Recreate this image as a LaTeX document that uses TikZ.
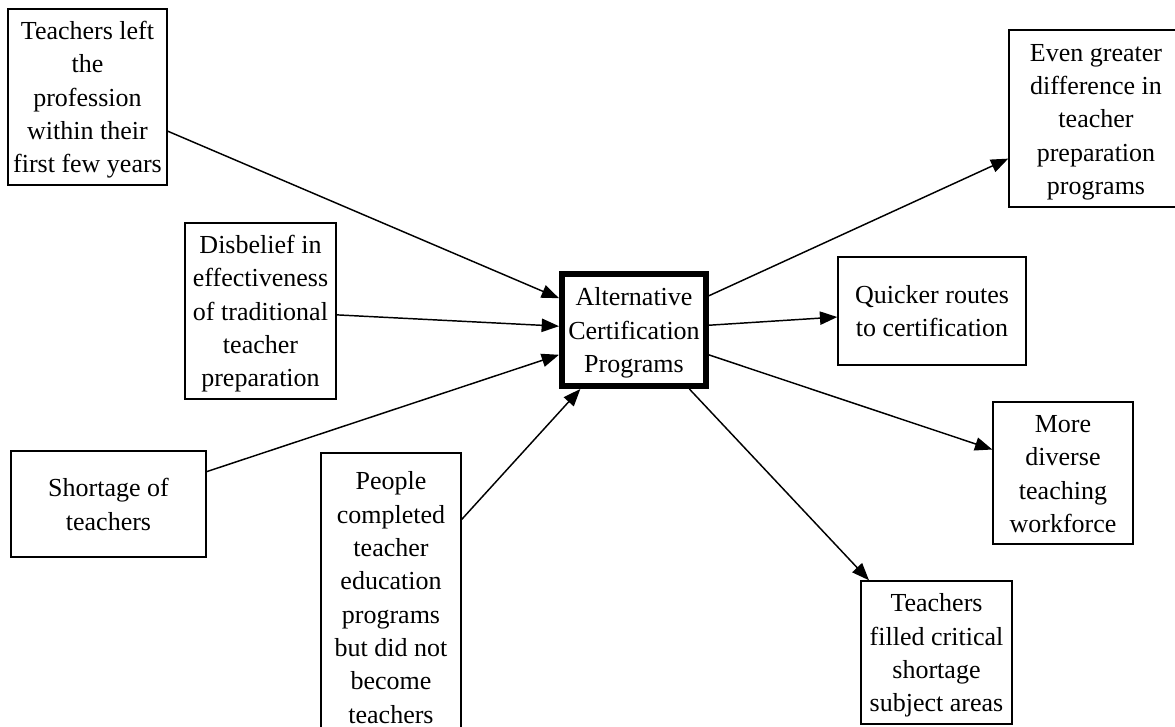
\documentclass[tikz,border=0pt]{standalone}
\usepackage{fontspec}
\setmainfont{Liberation Serif}
\usetikzlibrary{arrows.meta}
\newcommand\toprl{\rule{0pt}{19pt}}
\newcommand\botrl{\rule[-5pt]{0pt}{5pt}}
\begin{document}
\begin{tikzpicture}[x=0.75pt,y=-0.75pt,
  box/.style={draw, line width=1.1pt, inner sep=0pt, align=center,
    font=\fontsize{19.5}{25}\selectfont},
  sz/.style 2 args={minimum width=#1*0.75pt, minimum height=#2*0.75pt},
  mainbox/.style={box, line width=4.5pt},
  conn/.style={draw, line width=1.1pt, -{Triangle[length=13pt,width=10pt]}}]
\fill[white] (0,0) rectangle (1175,727);
\useasboundingbox (0,0) rectangle (1175,727);
\node[box, sz={159}{176}] (A) at (87.5,97) {\toprl Teachers left\\the\\profession\\within their\\first few years\botrl};
\node[box, sz={151}{176}] (B) at (260.5,311) {\toprl Disbelief in\\effectiveness\\of traditional\\teacher\\preparation\botrl};
\node[box, sz={195}{106}] (C) at (108.5,504) {\toprl Shortage of\\teachers\botrl};
\node[box, sz={140}{288}] (D) at (391,597) {\toprl People\\completed\\teacher\\education\\programs\\but did not\\become\\teachers\botrl};
\node[mainbox, sz={144}{112}] (M) at (634,330) {\toprl Alternative\\Certification\\Programs\botrl};
\node[box, sz={174}{177}] (E) at (1096,118.5) {\toprl Even greater\\difference in\\teacher\\preparation\\programs\botrl};
\node[box, sz={188}{108}] (Q) at (932,311) {\toprl Quicker routes\\to certification\botrl};
\node[box, sz={140}{142}] (R) at (1063,473) {\toprl More\\diverse\\teaching\\workforce\botrl};
\node[box, sz={151}{143}] (T) at (936.5,652.5) {\toprl Teachers\\filled critical\\shortage\\subject areas\botrl};
\draw[conn] (A) -- (M);
\draw[conn] (B) -- (M);
\draw[conn] (C) -- (M);
\draw[conn] (D) -- (M);
\draw[conn] (M) -- (E);
\draw[conn] (M) -- (Q);
\draw[conn] (M) -- (R);
\draw[conn] (M) -- (T);
\end{tikzpicture}
\end{document}
